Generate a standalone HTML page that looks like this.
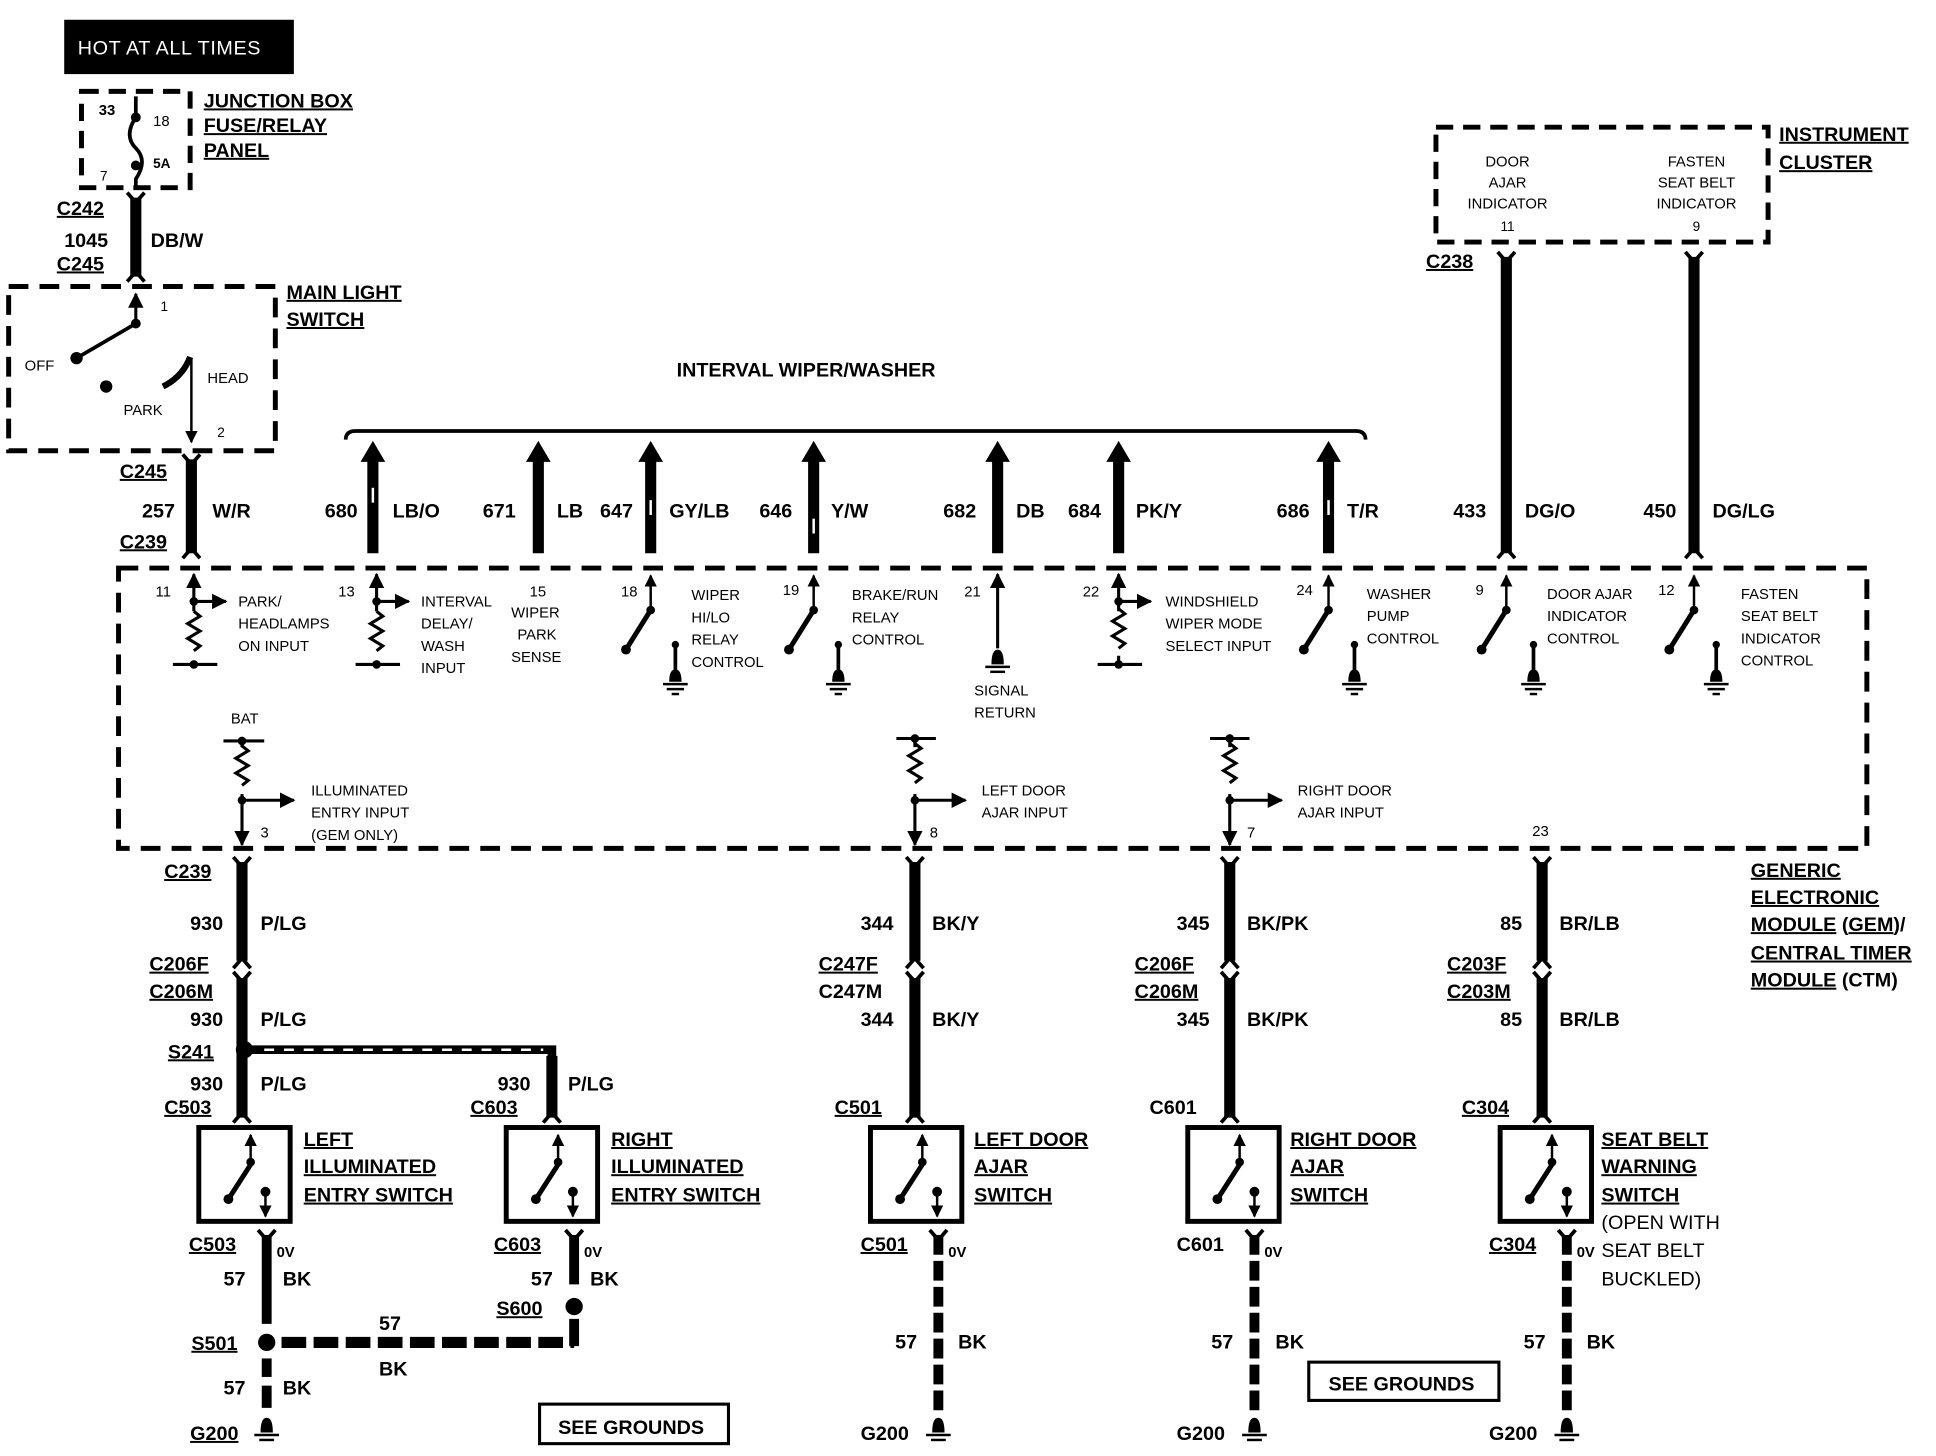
<!DOCTYPE html>
<html><head><meta charset="utf-8"><style>
html,body{margin:0;padding:0;background:#fff;}
svg{display:block;}
text{font-family:"Liberation Sans",sans-serif;fill:#000;}
.b{font-weight:bold;font-size:16px;}
.u{text-decoration:underline;}
.s{font-size:12px;}
</style></head><body>
<svg width="1936" height="1456" viewBox="0 0 1568 1179" preserveAspectRatio="none" xmlns="http://www.w3.org/2000/svg">
<defs>
<marker id="ah" viewBox="0 0 10 10" refX="9" refY="5" markerWidth="5" markerHeight="5" orient="auto"><path d="M0,0 L10,5 L0,10 z" fill="#000"/></marker>
<g id="res"><path d="M0,0 l5,4 l-10,6 l10,6 l-10,6 l10,6 l-5,4" fill="none" stroke="#000" stroke-width="2.5"/></g>
<g id="gnd"><line x1="0" y1="0" x2="0" y2="22" stroke="#000" stroke-width="3"/><path d="M-5,30 q0,-10 5,-10 q5,0 5,10 z" fill="#000"/><line x1="-10" y1="32" x2="10" y2="32" stroke="#000" stroke-width="2"/><line x1="-7" y1="36" x2="7" y2="36" stroke="#000" stroke-width="2"/><line x1="-3" y1="40" x2="3" y2="40" stroke="#000" stroke-width="2"/><circle cx="0" cy="0" r="3"/></g>
<g id="sw"><line x1="0" y1="32" x2="0" y2="4" stroke="#000" stroke-width="2" marker-end="url(#ah)"/><line x1="0" y1="32" x2="-20" y2="64" stroke="#000" stroke-width="4"/><circle cx="0" cy="32" r="3.5"/><circle cx="-20" cy="64" r="4"/></g>
<g id="gsym"><path d="M-5,12 q0,-12 5,-12 q5,0 5,12 z" fill="#000"/><line x1="-10" y1="14" x2="10" y2="14" stroke="#000" stroke-width="2"/><line x1="-6" y1="18" x2="6" y2="18" stroke="#000" stroke-width="2"/></g>
<g id="yt"><path d="M-7,-6 L0,2 L7,-6" fill="none" stroke="#000" stroke-width="3"/></g>
<g id="yb"><path d="M-7,6 L0,-2 L7,6" fill="none" stroke="#000" stroke-width="3"/></g>
<g id="swbox"><rect x="0" y="0" width="74" height="76" fill="none" stroke="#000" stroke-width="4"/><line x1="42" y1="30" x2="42" y2="6" stroke="#000" stroke-width="2" marker-end="url(#ah)"/><line x1="42" y1="30" x2="24" y2="58" stroke="#000" stroke-width="4"/><circle cx="42" cy="28" r="3.5"/><circle cx="24" cy="58" r="4"/><circle cx="54" cy="52" r="4"/><line x1="54" y1="52" x2="54" y2="72" stroke="#000" stroke-width="2" marker-end="url(#ah)"/></g>
</defs>

<!-- HOT AT ALL TIMES -->
<rect x="52" y="16" width="186" height="44" fill="#000"/>
<text x="63" y="44" font-size="16" style="fill:#fff" letter-spacing="0.5">HOT AT ALL TIMES</text>

<!-- Junction box -->
<rect x="66" y="74" width="88" height="78" fill="none" stroke="#000" stroke-width="4" stroke-dasharray="14,8"/>
<text x="80" y="93" class="s b" font-size="11">33</text><text x="124" y="102" class="s" font-size="11">18</text>
<text x="124" y="136" font-size="11" font-weight="bold">5A</text><text x="81" y="146" font-size="11">7</text>
<path d="M110,78 L110,95 q-10,15 0,25 q10,10 0,25 L110,152" fill="none" stroke="#000" stroke-width="3"/>
<circle cx="110" cy="95" r="4"/><circle cx="110" cy="134" r="4"/>
<text x="165" y="87" class="b u">JUNCTION BOX</text>
<text x="165" y="107" class="b u">FUSE/RELAY</text>
<text x="165" y="127" class="b u">PANEL</text>

<!-- 1045 -->
<line x1="110" y1="160" x2="110" y2="224" stroke="#000" stroke-width="9"/>
<use href="#yt" x="110" y="162"/><use href="#yb" x="110" y="222"/>
<text x="46" y="174" class="b u">C242</text>
<text x="52" y="200" class="b">1045</text><text x="122" y="200" class="b">DB/W</text>
<text x="46" y="219" class="b u">C245</text>

<!-- Main light switch -->
<rect x="7" y="232" width="216" height="133" fill="none" stroke="#000" stroke-width="4" stroke-dasharray="16,9"/>
<line x1="110" y1="262" x2="110" y2="238" stroke="#000" stroke-width="2.5" marker-end="url(#ah)"/>
<line x1="110" y1="262" x2="62" y2="290" stroke="#000" stroke-width="3"/>
<circle cx="110" cy="262" r="4"/><circle cx="62" cy="290" r="5"/><circle cx="86" cy="313" r="5"/>
<path d="M132,313 q16,-8 22,-24" fill="none" stroke="#000" stroke-width="5"/>
<line x1="155" y1="290" x2="155" y2="358" stroke="#000" stroke-width="2" marker-end="url(#ah)"/>
<text x="130" y="252" font-size="11">1</text><text x="20" y="300" font-size="12">OFF</text>
<text x="168" y="310" font-size="12">HEAD</text><text x="100" y="336" font-size="12">PARK</text>
<text x="176" y="354" font-size="11">2</text>
<text x="232" y="242" class="b u">MAIN LIGHT</text>
<text x="232" y="264" class="b u">SWITCH</text>

<!-- 257 -->
<line x1="155" y1="372" x2="155" y2="448" stroke="#000" stroke-width="9"/>
<use href="#yt" x="155" y="374"/><use href="#yb" x="155" y="446"/>
<text x="97" y="387" class="b u">C245</text>
<text x="115" y="419" class="b">257</text><text x="172" y="419" class="b">W/R</text>
<text x="97" y="444" class="b u">C239</text>

<!-- Interval bus -->
<text x="548" y="305" class="b">INTERVAL WIPER/WASHER</text>
<path d="M280,356 q0,-7 8,-7 L1098,349 q8,0 8,7" fill="none" stroke="#000" stroke-width="3"/>
<g stroke="#000" stroke-width="9">
<line x1="302" y1="372" x2="302" y2="448"/><line x1="436" y1="372" x2="436" y2="448"/>
<line x1="527" y1="372" x2="527" y2="448"/><line x1="659" y1="372" x2="659" y2="448"/>
<line x1="808" y1="372" x2="808" y2="448"/><line x1="906" y1="372" x2="906" y2="448"/>
<line x1="1076" y1="372" x2="1076" y2="448"/>
</g>
<g fill="#000">
<path d="M292,374 L302,357 L312,374z"/><path d="M426,374 L436,357 L446,374z"/>
<path d="M517,374 L527,357 L537,374z"/><path d="M649,374 L659,357 L669,374z"/>
<path d="M798,374 L808,357 L818,374z"/><path d="M896,374 L906,357 L916,374z"/>
<path d="M1066,374 L1076,357 L1086,374z"/>
</g>
<g fill="#fff"><rect x="301" y="395" width="2" height="12"/><rect x="526" y="405" width="2" height="12"/><rect x="658" y="420" width="2" height="12"/><rect x="1075" y="405" width="2" height="12"/></g>
<text x="263" y="419" class="b">680</text><text x="318" y="419" class="b">LB/O</text>
<text x="391" y="419" class="b">671</text><text x="451" y="419" class="b">LB</text>
<text x="486" y="419" class="b">647</text><text x="542" y="419" class="b">GY/LB</text>
<text x="615" y="419" class="b">646</text><text x="673" y="419" class="b">Y/W</text>
<text x="764" y="419" class="b">682</text><text x="823" y="419" class="b">DB</text>
<text x="865" y="419" class="b">684</text><text x="920" y="419" class="b">PK/Y</text>
<text x="1034" y="419" class="b">686</text><text x="1091" y="419" class="b">T/R</text>

<!-- Instrument cluster -->
<rect x="1163" y="103" width="269" height="93" fill="none" stroke="#000" stroke-width="4" stroke-dasharray="14,8"/>
<text x="1221" y="135" font-size="12" text-anchor="middle">DOOR</text>
<text x="1221" y="152" font-size="12" text-anchor="middle">AJAR</text>
<text x="1221" y="169" font-size="12" text-anchor="middle">INDICATOR</text>
<text x="1221" y="187" font-size="11" text-anchor="middle">11</text>
<text x="1374" y="135" font-size="12" text-anchor="middle">FASTEN</text>
<text x="1374" y="152" font-size="12" text-anchor="middle">SEAT BELT</text>
<text x="1374" y="169" font-size="12" text-anchor="middle">INDICATOR</text>
<text x="1374" y="187" font-size="11" text-anchor="middle">9</text>
<text x="1441" y="114" class="b u">INSTRUMENT</text>
<text x="1441" y="137" class="b u">CLUSTER</text>
<text x="1155" y="217" class="b u">C238</text>
<line x1="1220" y1="208" x2="1220" y2="448" stroke="#000" stroke-width="9"/>
<line x1="1372" y1="208" x2="1372" y2="448" stroke="#000" stroke-width="9"/>
<use href="#yt" x="1220" y="210"/><use href="#yb" x="1220" y="446"/>
<use href="#yt" x="1372" y="210"/><use href="#yb" x="1372" y="446"/>
<text x="1177" y="419" class="b">433</text><text x="1235" y="419" class="b">DG/O</text>
<text x="1331" y="419" class="b">450</text><text x="1387" y="419" class="b">DG/LG</text>

<!-- GEM box -->
<rect x="96" y="460" width="1416" height="227" fill="none" stroke="#000" stroke-width="4" stroke-dasharray="16,9"/>
<g stroke="#000" fill="none" stroke-width="2.5">
<!-- 11 -->
<line x1="157" y1="537" x2="157" y2="465" marker-end="url(#ah)"/><line x1="157" y1="487" x2="183" y2="487" marker-end="url(#ah)"/><line x1="140" y1="538" x2="176" y2="538"/>
<!-- 13 -->
<line x1="305" y1="537" x2="305" y2="465" marker-end="url(#ah)"/><line x1="305" y1="487" x2="331" y2="487" marker-end="url(#ah)"/><line x1="288" y1="538" x2="324" y2="538"/>
<!-- 21 -->
<line x1="808" y1="525" x2="808" y2="465" marker-end="url(#ah)"/>
<!-- 22 -->
<line x1="906" y1="537" x2="906" y2="465" marker-end="url(#ah)"/><line x1="906" y1="487" x2="932" y2="487" marker-end="url(#ah)"/><line x1="889" y1="538" x2="925" y2="538"/>
<!-- lower -->
<line x1="181" y1="600" x2="214" y2="600"/><line x1="196" y1="600" x2="196" y2="684" marker-end="url(#ah)"/><line x1="196" y1="648" x2="238" y2="648" marker-end="url(#ah)"/>
<line x1="726" y1="598" x2="758" y2="598"/><line x1="741" y1="598" x2="741" y2="684" marker-end="url(#ah)"/><line x1="741" y1="648" x2="782" y2="648" marker-end="url(#ah)"/>
<line x1="980" y1="598" x2="1012" y2="598"/><line x1="996" y1="598" x2="996" y2="684" marker-end="url(#ah)"/><line x1="996" y1="648" x2="1038" y2="648" marker-end="url(#ah)"/>
</g>
<rect x="150" y="495" width="14" height="40" fill="#fff"/><use href="#res" x="157" y="495"/>
<rect x="298" y="495" width="14" height="40" fill="#fff"/><use href="#res" x="305" y="495"/>
<rect x="899" y="495" width="14" height="36" fill="#fff"/><use href="#res" x="906" y="493"/>
<rect x="189" y="605" width="14" height="38" fill="#fff"/><use href="#res" x="196" y="604"/>
<rect x="734" y="605" width="14" height="38" fill="#fff"/><use href="#res" x="741" y="602"/>
<rect x="989" y="605" width="14" height="38" fill="#fff"/><use href="#res" x="996" y="602"/>
<circle cx="157" cy="487" r="3.5"/><circle cx="157" cy="538" r="3.5"/><circle cx="305" cy="487" r="3.5"/><circle cx="305" cy="538" r="3.5"/>
<circle cx="906" cy="487" r="3.5"/><circle cx="906" cy="538" r="3.5"/>
<circle cx="196" cy="600" r="3.5"/><circle cx="196" cy="648" r="3.5"/><circle cx="741" cy="598" r="3.5"/><circle cx="741" cy="648" r="3.5"/><circle cx="996" cy="598" r="3.5"/><circle cx="996" cy="648" r="3.5"/>
<use href="#gsym" x="808" y="526"/>
<use href="#sw" x="527" y="462"/><use href="#gnd" x="547" y="522"/>
<use href="#sw" x="659" y="462"/><use href="#gnd" x="679" y="522"/>
<use href="#sw" x="1076" y="462"/><use href="#gnd" x="1097" y="522"/>
<use href="#sw" x="1220" y="462"/><use href="#gnd" x="1242" y="522"/>
<use href="#sw" x="1372" y="462"/><use href="#gnd" x="1390" y="522"/>
<g font-size="12">
<text x="126" y="483">11</text><text x="193" y="491">PARK/</text><text x="193" y="509">HEADLAMPS</text><text x="193" y="527">ON INPUT</text>
<text x="274" y="483">13</text><text x="341" y="491">INTERVAL</text><text x="341" y="509">DELAY/</text><text x="341" y="527">WASH</text><text x="341" y="545">INPUT</text>
<text x="429" y="483">15</text><text x="414" y="500">WIPER</text><text x="419" y="518">PARK</text><text x="414" y="536">SENSE</text>
<text x="503" y="483">18</text><text x="560" y="486">WIPER</text><text x="560" y="504">HI/LO</text><text x="560" y="522">RELAY</text><text x="560" y="540">CONTROL</text>
<text x="634" y="482">19</text><text x="690" y="486">BRAKE/RUN</text><text x="690" y="504">RELAY</text><text x="690" y="522">CONTROL</text>
<text x="781" y="483">21</text><text x="789" y="563">SIGNAL</text><text x="789" y="581">RETURN</text>
<text x="877" y="483">22</text><text x="944" y="491">WINDSHIELD</text><text x="944" y="509">WIPER MODE</text><text x="944" y="527">SELECT INPUT</text>
<text x="1050" y="482">24</text><text x="1107" y="485">WASHER</text><text x="1107" y="503">PUMP</text><text x="1107" y="521">CONTROL</text>
<text x="1195" y="482">9</text><text x="1253" y="485">DOOR AJAR</text><text x="1253" y="503">INDICATOR</text><text x="1253" y="521">CONTROL</text>
<text x="1343" y="482">12</text><text x="1410" y="485">FASTEN</text><text x="1410" y="503">SEAT BELT</text><text x="1410" y="521">INDICATOR</text><text x="1410" y="539">CONTROL</text>
<text x="187" y="586">BAT</text><text x="252" y="644">ILLUMINATED</text><text x="252" y="662">ENTRY INPUT</text><text x="252" y="680">(GEM ONLY)</text><text x="211" y="678">3</text>
<text x="795" y="644">LEFT DOOR</text><text x="795" y="662">AJAR INPUT</text><text x="753" y="678">8</text>
<text x="1051" y="644">RIGHT DOOR</text><text x="1051" y="662">AJAR INPUT</text><text x="1010" y="678">7</text>
<text x="1241" y="677">23</text>
</g>
<text x="1418" y="710" class="b u">GENERIC</text>
<text x="1418" y="732" class="b u">ELECTRONIC</text>
<text x="1418" y="754" class="b"><tspan class="u">MODULE</tspan> (<tspan class="u">GEM</tspan>)/</text>
<text x="1418" y="777" class="b u">CENTRAL TIMER</text>
<text x="1418" y="799" class="b"><tspan class="u">MODULE</tspan> (CTM)</text>

<!-- lower wires -->
<g stroke="#000" stroke-width="9">
<line x1="196" y1="698" x2="196" y2="778"/><line x1="196" y1="792" x2="196" y2="905"/>
<line x1="741" y1="698" x2="741" y2="778"/><line x1="741" y1="792" x2="741" y2="905"/>
<line x1="996" y1="698" x2="996" y2="778"/><line x1="996" y1="792" x2="996" y2="905"/>
<line x1="1249" y1="698" x2="1249" y2="778"/><line x1="1249" y1="792" x2="1249" y2="905"/>
<line x1="447" y1="855" x2="447" y2="905"/>
</g>
<g>
<use href="#yt" x="196" y="700"/><use href="#yb" x="196" y="778"/><use href="#yt" x="196" y="793"/><use href="#yb" x="196" y="903"/>
<use href="#yt" x="741" y="700"/><use href="#yb" x="741" y="778"/><use href="#yt" x="741" y="793"/><use href="#yb" x="741" y="903"/>
<use href="#yt" x="996" y="700"/><use href="#yb" x="996" y="778"/><use href="#yt" x="996" y="793"/><use href="#yb" x="996" y="903"/>
<use href="#yt" x="1249" y="700"/><use href="#yb" x="1249" y="778"/><use href="#yt" x="1249" y="793"/><use href="#yb" x="1249" y="903"/>
<use href="#yb" x="447" y="903"/>
</g>
<path d="M200,850 L447,850 L447,860" fill="none" stroke="#000" stroke-width="7"/>
<line x1="214" y1="850" x2="440" y2="850" stroke="#fff" stroke-width="2" stroke-dasharray="8,8"/>
<circle cx="198" cy="850" r="7"/>

<text x="133" y="711" class="b u">C239</text>
<text x="154" y="753" class="b">930</text><text x="211" y="753" class="b">P/LG</text>
<text x="121" y="786" class="b u">C206F</text><text x="121" y="808" class="b u">C206M</text>
<text x="154" y="831" class="b">930</text><text x="211" y="831" class="b">P/LG</text>
<text x="136" y="857" class="b u">S241</text>
<text x="154" y="883" class="b">930</text><text x="211" y="883" class="b">P/LG</text>
<text x="133" y="902" class="b u">C503</text>
<text x="403" y="883" class="b">930</text><text x="460" y="883" class="b">P/LG</text>
<text x="381" y="902" class="b u">C603</text>

<text x="697" y="753" class="b">344</text><text x="755" y="753" class="b">BK/Y</text>
<text x="663" y="786" class="b u">C247F</text><text x="663" y="808" class="b">C247M</text>
<text x="697" y="831" class="b">344</text><text x="755" y="831" class="b">BK/Y</text>
<text x="676" y="902" class="b u">C501</text>

<text x="953" y="753" class="b">345</text><text x="1010" y="753" class="b">BK/PK</text>
<text x="919" y="786" class="b u">C206F</text><text x="919" y="808" class="b u">C206M</text>
<text x="953" y="831" class="b">345</text><text x="1010" y="831" class="b">BK/PK</text>
<text x="931" y="902" class="b">C601</text>

<text x="1215" y="753" class="b">85</text><text x="1263" y="753" class="b">BR/LB</text>
<text x="1172" y="786" class="b u">C203F</text><text x="1172" y="808" class="b u">C203M</text>
<text x="1215" y="831" class="b">85</text><text x="1263" y="831" class="b">BR/LB</text>
<text x="1184" y="902" class="b u">C304</text>

<!-- switch boxes -->
<use href="#swbox" x="161" y="913"/><use href="#swbox" x="410" y="913"/>
<use href="#swbox" x="705" y="913"/><use href="#swbox" x="962" y="913"/><use href="#swbox" x="1215" y="913"/>
<text x="246" y="928" class="b u">LEFT</text><text x="246" y="950" class="b u">ILLUMINATED</text><text x="246" y="973" class="b u">ENTRY SWITCH</text>
<text x="495" y="928" class="b u">RIGHT</text><text x="495" y="950" class="b u">ILLUMINATED</text><text x="495" y="973" class="b u">ENTRY SWITCH</text>
<text x="789" y="928" class="b u">LEFT DOOR</text><text x="789" y="950" class="b u">AJAR</text><text x="789" y="973" class="b u">SWITCH</text>
<text x="1045" y="928" class="b u">RIGHT DOOR</text><text x="1045" y="950" class="b u">AJAR</text><text x="1045" y="973" class="b u">SWITCH</text>
<text x="1297" y="928" class="b u">SEAT BELT</text><text x="1297" y="950" class="b u">WARNING</text><text x="1297" y="973" class="b u">SWITCH</text>
<text x="1297" y="995" font-size="16">(OPEN WITH</text><text x="1297" y="1018" font-size="16">SEAT BELT</text><text x="1297" y="1041" font-size="16">BUCKLED)</text>

<!-- ground wires -->
<g stroke="#000" stroke-width="8">
<line x1="216" y1="1000" x2="216" y2="1072"/><line x1="216" y1="1100" x2="216" y2="1115"/><line x1="216" y1="1122" x2="216" y2="1140"/>
<line x1="465" y1="1000" x2="465" y2="1040"/><line x1="465" y1="1068" x2="465" y2="1090"/>
<line x1="760" y1="1000" x2="760" y2="1145" stroke-dasharray="16,5"/>
<line x1="1016" y1="1000" x2="1016" y2="1145" stroke-dasharray="16,5"/>
<line x1="1269" y1="1000" x2="1269" y2="1145" stroke-dasharray="16,5"/>
<line x1="228" y1="1087" x2="465" y2="1087" stroke-width="9" stroke-dasharray="20,6"/>
</g>
<use href="#yt" x="216" y="1002"/><use href="#yt" x="465" y="1002"/><use href="#yt" x="760" y="1002"/><use href="#yt" x="1016" y="1002"/><use href="#yt" x="1269" y="1002"/>
<circle cx="216" cy="1087" r="7"/><circle cx="465" cy="1058" r="7"/>
<use href="#gsym" x="216" y="1148"/><use href="#gsym" x="760" y="1148"/><use href="#gsym" x="1016" y="1148"/><use href="#gsym" x="1269" y="1148"/>

<g font-size="12" font-weight="bold"><text x="224" y="1018">0V</text><text x="473" y="1018">0V</text><text x="768" y="1018">0V</text><text x="1024" y="1018">0V</text><text x="1277" y="1018">0V</text></g>
<text x="153" y="1013" class="b u">C503</text><text x="400" y="1013" class="b u">C603</text><text x="697" y="1013" class="b u">C501</text><text x="953" y="1013" class="b">C601</text><text x="1206" y="1013" class="b u">C304</text>
<text x="181" y="1041" class="b">57</text><text x="229" y="1041" class="b">BK</text>
<text x="430" y="1041" class="b">57</text><text x="478" y="1041" class="b">BK</text>
<text x="402" y="1065" class="b u">S600</text>
<text x="155" y="1093" class="b u">S501</text>
<text x="307" y="1077" class="b">57</text><text x="307" y="1114" class="b">BK</text>
<text x="181" y="1129" class="b">57</text><text x="229" y="1129" class="b">BK</text>
<text x="725" y="1092" class="b">57</text><text x="776" y="1092" class="b">BK</text>
<text x="981" y="1092" class="b">57</text><text x="1033" y="1092" class="b">BK</text>
<text x="1234" y="1092" class="b">57</text><text x="1285" y="1092" class="b">BK</text>
<text x="154" y="1166" class="b u">G200</text><text x="697" y="1166" class="b">G200</text><text x="953" y="1166" class="b">G200</text><text x="1206" y="1166" class="b">G200</text>

<rect x="437" y="1137" width="153" height="32" fill="none" stroke="#000" stroke-width="2.5"/>
<text x="452" y="1161" class="b">SEE GROUNDS</text>
<rect x="1060" y="1103" width="154" height="31" fill="none" stroke="#000" stroke-width="2.5"/>
<text x="1076" y="1126" class="b">SEE GROUNDS</text>
</svg>
</body></html>
